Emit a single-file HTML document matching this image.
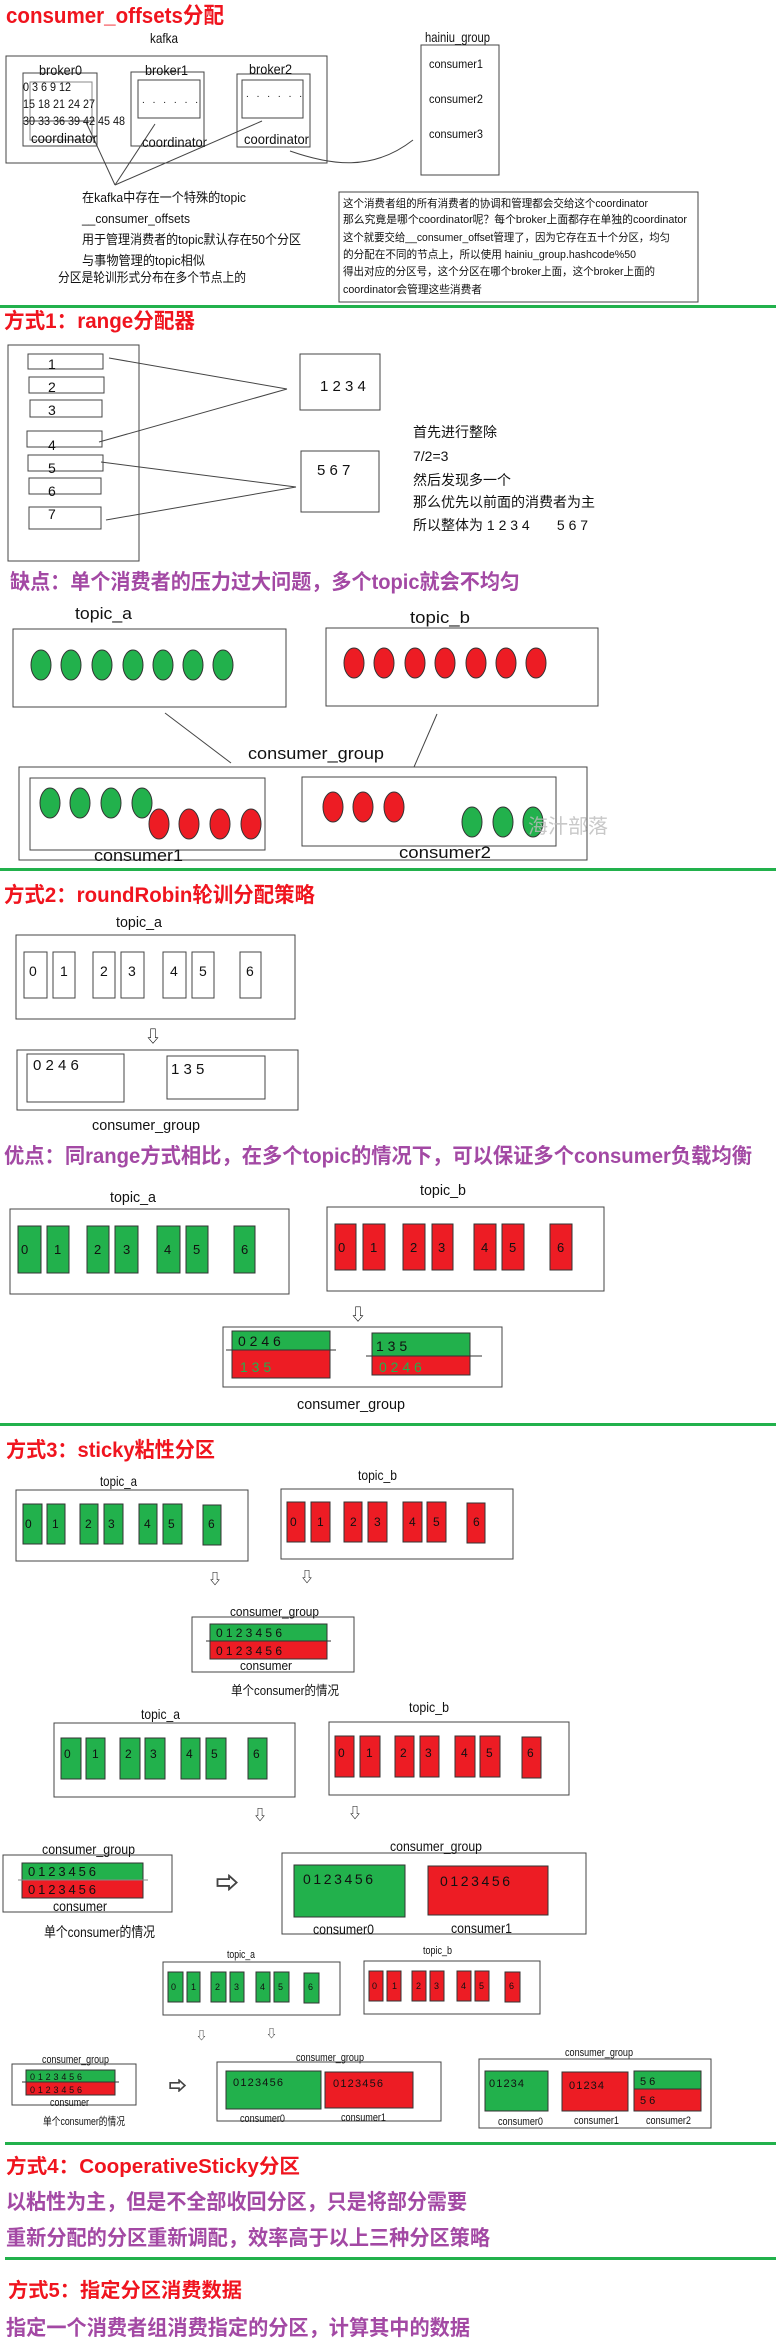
<!DOCTYPE html>
<html><head><meta charset="utf-8"><style>
html,body{margin:0;padding:0;background:#fff;}
svg{display:block;}
text{font-family:"Liberation Sans","Noto Sans CJK SC",sans-serif;}
</style></head><body>
<svg width="776" height="2341" viewBox="0 0 776 2341" xmlns="http://www.w3.org/2000/svg">
<rect width="776" height="2341" fill="#fff"/>
<g font-weight="bold">
<text x="6" y="23" font-size="22" fill="#f0141e" textLength="218" lengthAdjust="spacingAndGlyphs">consumer_offsets分配</text>
<text x="4" y="328" font-size="21" fill="#f0141e" textLength="191" lengthAdjust="spacingAndGlyphs">方式1：range分配器</text>
<text x="10" y="589" font-size="21" fill="#a349a4" textLength="510" lengthAdjust="spacingAndGlyphs">缺点：单个消费者的压力过大问题，多个topic就会不均匀</text>
<text x="4" y="902" font-size="21" fill="#f0141e" textLength="311" lengthAdjust="spacingAndGlyphs">方式2：roundRobin轮训分配策略</text>
<text x="4" y="1163" font-size="21" fill="#a349a4" textLength="748" lengthAdjust="spacingAndGlyphs">优点：同range方式相比，在多个topic的情况下，可以保证多个consumer负载均衡</text>
<text x="6" y="1457" font-size="21" fill="#f0141e" textLength="209" lengthAdjust="spacingAndGlyphs">方式3：sticky粘性分区</text>
<text x="6" y="2173" font-size="20" fill="#f0141e" textLength="294" lengthAdjust="spacingAndGlyphs">方式4：CooperativeSticky分区</text>
<text x="6" y="2209" font-size="21" fill="#a349a4" textLength="461" lengthAdjust="spacingAndGlyphs">以粘性为主，但是不全部收回分区，只是将部分需要</text>
<text x="6" y="2245" font-size="21" fill="#a349a4" textLength="484" lengthAdjust="spacingAndGlyphs">重新分配的分区重新调配，效率高于以上三种分区策略</text>
<text x="8" y="2297" font-size="20" fill="#f0141e" textLength="234" lengthAdjust="spacingAndGlyphs">方式5：指定分区消费数据</text>
<text x="6" y="2335" font-size="21" fill="#a349a4" textLength="464" lengthAdjust="spacingAndGlyphs">指定一个消费者组消费指定的分区，计算其中的数据</text>
</g>
<!-- green separators -->
<rect x="0" y="305" width="776" height="3" fill="#22b14c"/>
<rect x="0" y="868" width="776" height="3" fill="#22b14c"/>
<rect x="0" y="1423" width="776" height="3" fill="#22b14c"/>
<rect x="5" y="2142" width="771" height="3" fill="#22b14c"/>
<rect x="5" y="2257" width="771" height="3" fill="#22b14c"/>

<g fill="none" stroke="#444" stroke-width="1">
<!-- section 1 -->
<rect x="6" y="56" width="321" height="107"/>
<rect x="23" y="73" width="74" height="73"/>
<rect x="30" y="82" width="62" height="58" stroke="#888"/>
<rect x="131" y="72" width="73" height="74"/>
<rect x="138" y="80" width="62" height="38"/>
<rect x="237" y="74" width="73" height="73"/>
<rect x="242" y="80" width="61" height="38"/>
<line x1="23" y1="121" x2="95" y2="121"/>
<line x1="86" y1="122" x2="115" y2="185"/>
<line x1="155" y1="124" x2="115" y2="185"/>
<line x1="262" y1="121" x2="115" y2="185"/>
<path d="M290,151 C330,165 372,172 413,140"/>
<rect x="421" y="45" width="78" height="130"/>
<rect x="339" y="192" width="359" height="110"/>
<!-- section 2 -->
<rect x="8" y="345" width="131" height="216"/>
<rect x="28" y="354" width="75" height="15"/>
<rect x="29" y="377" width="75" height="16"/>
<rect x="30" y="400" width="72" height="17"/>
<rect x="27" y="431" width="75" height="16"/>
<rect x="28" y="455" width="75" height="16"/>
<rect x="29" y="478" width="72" height="16"/>
<rect x="29" y="507" width="72" height="22"/>
<rect x="300" y="354" width="80" height="56"/>
<rect x="301" y="451" width="78" height="61"/>
<line x1="109" y1="358" x2="287" y2="389"/>
<line x1="99" y1="442" x2="287" y2="389"/>
<line x1="101" y1="462" x2="296" y2="487"/>
<line x1="106" y1="520" x2="296" y2="487"/>
<rect x="13" y="629" width="273" height="78"/>
<rect x="326" y="628" width="272" height="78"/>
<line x1="165" y1="713" x2="231" y2="763"/>
<line x1="437" y1="714" x2="414" y2="767"/>
<rect x="19" y="767" width="568" height="93"/>
<rect x="30" y="778" width="235" height="72"/>
<rect x="302" y="777" width="254" height="69"/>
<!-- section 3 -->
<rect x="16" y="935" width="279" height="84"/>
<rect x="17" y="1050" width="281" height="60"/>
<rect x="27" y="1054" width="97" height="48"/>
<rect x="167" y="1056" width="98" height="43"/>
<rect x="10" y="1209" width="279" height="85"/>
<rect x="327" y="1207" width="277" height="84"/>
<rect x="223" y="1327" width="279" height="60"/>
<!-- sticky -->
<rect x="16" y="1490" width="232" height="71"/>
<rect x="281" y="1489" width="232" height="70"/>
<rect x="192" y="1617" width="162" height="55"/>
<rect x="54" y="1723" width="241" height="74"/>
<rect x="329" y="1722" width="240" height="73"/>
<rect x="3" y="1855" width="169" height="57"/>
<rect x="282" y="1853" width="304" height="81"/>
<rect x="163" y="1962" width="177" height="53"/>
<rect x="364" y="1961" width="176" height="53"/>
<rect x="12" y="2064" width="124" height="41"/>
<rect x="217" y="2062" width="224" height="59"/>
<rect x="479" y="2059" width="232" height="69"/>
</g>

<g font-size="14" fill="#111">
<text x="150" y="43" textLength="28" lengthAdjust="spacingAndGlyphs">kafka</text>
<text x="39" y="75" textLength="43" lengthAdjust="spacingAndGlyphs">broker0</text>
<text x="145" y="75" textLength="43" lengthAdjust="spacingAndGlyphs">broker1</text>
<text x="249" y="74" textLength="43" lengthAdjust="spacingAndGlyphs">broker2</text>
<text x="23" y="91" font-size="12" textLength="48" lengthAdjust="spacingAndGlyphs">0 3 6 9 12</text>
<text x="23" y="108" font-size="12" textLength="72" lengthAdjust="spacingAndGlyphs">15 18 21 24 27</text>
<text x="23" y="125" font-size="12" textLength="102" lengthAdjust="spacingAndGlyphs">30 33 36 39 42 45 48</text>
<text x="31" y="143" textLength="66" lengthAdjust="spacingAndGlyphs">coordinator</text>
<text x="142" y="147" textLength="65" lengthAdjust="spacingAndGlyphs">coordinator</text>
<text x="244" y="144" textLength="65" lengthAdjust="spacingAndGlyphs">coordinator</text>
<text x="142" y="103" font-size="10" textLength="56" lengthAdjust="spacing">. . . . . .</text>
<text x="246" y="97" font-size="10" textLength="56" lengthAdjust="spacing">. . . . . .</text>
<text x="425" y="42" textLength="65" lengthAdjust="spacingAndGlyphs">hainiu_group</text>
<text x="429" y="68" font-size="12" textLength="54" lengthAdjust="spacingAndGlyphs">consumer1</text>
<text x="429" y="103" font-size="12" textLength="54" lengthAdjust="spacingAndGlyphs">consumer2</text>
<text x="429" y="138" font-size="12" textLength="54" lengthAdjust="spacingAndGlyphs">consumer3</text>
<g font-size="13">
<text x="82" y="202" textLength="164" lengthAdjust="spacingAndGlyphs">在kafka中存在一个特殊的topic</text>
<text x="82" y="223" textLength="108" lengthAdjust="spacingAndGlyphs">__consumer_offsets</text>
<text x="82" y="244" textLength="219" lengthAdjust="spacingAndGlyphs">用于管理消费者的topic默认存在50个分区</text>
<text x="82" y="265" textLength="123" lengthAdjust="spacingAndGlyphs">与事物管理的topic相似</text>
<text x="58" y="282" textLength="188" lengthAdjust="spacingAndGlyphs">分区是轮训形式分布在多个节点上的</text>
</g>
<g font-size="11">
<text x="343" y="207" textLength="305" lengthAdjust="spacingAndGlyphs">这个消费者组的所有消费者的协调和管理都会交给这个coordinator</text>
<text x="343" y="223" textLength="344" lengthAdjust="spacingAndGlyphs">那么究竟是哪个coordinator呢？每个broker上面都存在单独的coordinator</text>
<text x="343" y="241" textLength="327" lengthAdjust="spacingAndGlyphs">这个就要交给__consumer_offset管理了，因为它存在五十个分区，均匀</text>
<text x="343" y="258" textLength="293" lengthAdjust="spacingAndGlyphs">的分配在不同的节点上，所以使用 hainiu_group.hashcode%50</text>
<text x="343" y="275" textLength="312" lengthAdjust="spacingAndGlyphs">得出对应的分区号，这个分区在哪个broker上面，这个broker上面的</text>
<text x="343" y="293" textLength="139" lengthAdjust="spacingAndGlyphs">coordinator会管理这些消费者</text>
</g>
<!-- section 2 -->
<text x="48" y="369">1</text>
<text x="48" y="392">2</text>
<text x="48" y="415">3</text>
<text x="48" y="450">4</text>
<text x="48" y="473">5</text>
<text x="48" y="496">6</text>
<text x="48" y="519">7</text>
<text x="320" y="391" font-size="15">1 2 3 4</text>
<text x="317" y="475" font-size="15">5 6 7</text>
<text x="413" y="437">首先进行整除</text>
<text x="413" y="461">7/2=3</text>
<text x="413" y="485">然后发现多一个</text>
<text x="413" y="507">那么优先以前面的消费者为主</text>
<text x="413" y="530" xml:space="preserve">所以整体为 1 2 3 4       5 6 7</text>
<text x="75" y="619" font-size="17" textLength="57" lengthAdjust="spacingAndGlyphs">topic_a</text>
<text x="410" y="623" font-size="17" textLength="60" lengthAdjust="spacingAndGlyphs">topic_b</text>
<text x="248" y="759" font-size="17" textLength="136" lengthAdjust="spacingAndGlyphs">consumer_group</text>
<text x="94" y="861" font-size="17" textLength="89" lengthAdjust="spacingAndGlyphs">consumer1</text>
<text x="399" y="858" font-size="17" textLength="92" lengthAdjust="spacingAndGlyphs">consumer2</text>
</g>
<g stroke="#333" stroke-width="1">
<g fill="#22b14c">
<ellipse cx="41" cy="665" rx="10" ry="15"/><ellipse cx="71" cy="665" rx="10" ry="15"/><ellipse cx="102" cy="665" rx="10" ry="15"/><ellipse cx="133" cy="665" rx="10" ry="15"/><ellipse cx="163" cy="665" rx="10" ry="15"/><ellipse cx="193" cy="665" rx="10" ry="15"/><ellipse cx="223" cy="665" rx="10" ry="15"/>
<ellipse cx="50" cy="803" rx="10" ry="15"/><ellipse cx="80" cy="803" rx="10" ry="15"/><ellipse cx="111" cy="803" rx="10" ry="15"/><ellipse cx="142" cy="803" rx="10" ry="15"/>
<ellipse cx="472" cy="822" rx="10" ry="15"/><ellipse cx="503" cy="822" rx="10" ry="15"/><ellipse cx="533" cy="822" rx="10" ry="15"/>
</g>
<g fill="#ed1c24">
<ellipse cx="354" cy="663" rx="10" ry="15"/><ellipse cx="384" cy="663" rx="10" ry="15"/><ellipse cx="415" cy="663" rx="10" ry="15"/><ellipse cx="445" cy="663" rx="10" ry="15"/><ellipse cx="476" cy="663" rx="10" ry="15"/><ellipse cx="506" cy="663" rx="10" ry="15"/><ellipse cx="536" cy="663" rx="10" ry="15"/>
<ellipse cx="159" cy="824" rx="10" ry="15"/><ellipse cx="189" cy="824" rx="10" ry="15"/><ellipse cx="220" cy="824" rx="10" ry="15"/><ellipse cx="251" cy="824" rx="10" ry="15"/>
<ellipse cx="333" cy="807" rx="10" ry="15"/><ellipse cx="363" cy="807" rx="10" ry="15"/><ellipse cx="394" cy="807" rx="10" ry="15"/>
</g>
</g>
<text x="528" y="833" font-size="20" fill="#bbb" opacity="0.8">海汁部落</text>

<!-- section 3 roundrobin -->
<g fill="#fff" stroke="#444">
<rect x="24" y="952" width="23" height="46"/><rect x="53" y="952" width="22" height="46"/><rect x="93" y="952" width="22" height="46"/><rect x="121" y="952" width="23" height="46"/><rect x="163" y="952" width="23" height="46"/><rect x="192" y="952" width="22" height="46"/><rect x="240" y="952" width="21" height="46"/>
</g>
<g font-size="14" fill="#111">
<text x="116" y="927" font-size="15" textLength="46" lengthAdjust="spacingAndGlyphs">topic_a</text>
<text x="29" y="976">0</text><text x="60" y="976">1</text><text x="100" y="976">2</text><text x="128" y="976">3</text><text x="170" y="976">4</text><text x="199" y="976">5</text><text x="246" y="976">6</text>
<text x="145" y="1042" font-size="16">⇩</text>
<text x="33" y="1070" font-size="15">0 2 4 6</text>
<text x="171" y="1074" font-size="15">1 3 5</text>
<text x="92" y="1130" font-size="15" textLength="108" lengthAdjust="spacingAndGlyphs">consumer_group</text>
<text x="110" y="1202" font-size="15" textLength="46" lengthAdjust="spacingAndGlyphs">topic_a</text>
<text x="420" y="1195" font-size="15" textLength="46" lengthAdjust="spacingAndGlyphs">topic_b</text>
<text x="350" y="1320" font-size="16">⇩</text>
<text x="297" y="1409" font-size="15" textLength="108" lengthAdjust="spacingAndGlyphs">consumer_group</text>
</g>
<g stroke="#333">
<g fill="#22b14c">
<rect x="18" y="1226" width="23" height="47"/><rect x="47" y="1226" width="22" height="47"/><rect x="87" y="1226" width="22" height="47"/><rect x="115" y="1226" width="23" height="47"/><rect x="157" y="1226" width="23" height="47"/><rect x="186" y="1226" width="22" height="47"/><rect x="234" y="1226" width="21" height="47"/>
</g>
<g fill="#ed1c24">
<rect x="335" y="1224" width="21" height="46"/><rect x="363" y="1224" width="22" height="46"/><rect x="403" y="1224" width="22" height="46"/><rect x="432" y="1224" width="21" height="46"/><rect x="474" y="1224" width="22" height="46"/><rect x="502" y="1224" width="22" height="46"/><rect x="550" y="1224" width="22" height="46"/>
</g>
<rect x="232" y="1331" width="98" height="19" fill="#22b14c"/>
<rect x="232" y="1350" width="98" height="28" fill="#ed1c24"/>
<rect x="372" y="1333" width="98" height="23" fill="#22b14c"/>
<rect x="372" y="1356" width="98" height="19" fill="#ed1c24"/>
<line x1="226" y1="1350" x2="336" y2="1350"/>
<line x1="366" y1="1356" x2="482" y2="1356"/>
</g>
<g font-size="13" fill="#111">
<text x="21" y="1254">0</text><text x="54" y="1254">1</text><text x="94" y="1254">2</text><text x="123" y="1254">3</text><text x="164" y="1254">4</text><text x="193" y="1254">5</text><text x="241" y="1254">6</text>
<text x="338" y="1252">0</text><text x="370" y="1252">1</text><text x="410" y="1252">2</text><text x="438" y="1252">3</text><text x="481" y="1252">4</text><text x="509" y="1252">5</text><text x="557" y="1252">6</text>
<text x="238" y="1346" font-size="14">0 2 4 6</text>
<text x="240" y="1372" font-size="14" fill="#22b14c">1 3 5</text>
<text x="376" y="1351" font-size="14">1 3 5</text>
<text x="379" y="1372" font-size="14" fill="#22b14c">0 2 4 6</text>
</g>

<!-- sticky part 1 -->
<g stroke="#333">
<g fill="#22b14c">
<rect x="23" y="1504" width="19" height="40"/><rect x="47" y="1504" width="18" height="40"/><rect x="80" y="1504" width="18" height="40"/><rect x="104" y="1504" width="19" height="40"/><rect x="139" y="1504" width="18" height="40"/><rect x="163" y="1504" width="19" height="40"/><rect x="203" y="1505" width="18" height="40"/>
<rect x="61" y="1738" width="20" height="41"/><rect x="86" y="1738" width="19" height="41"/><rect x="120" y="1738" width="20" height="41"/><rect x="145" y="1738" width="20" height="41"/><rect x="181" y="1738" width="19" height="41"/><rect x="206" y="1738" width="20" height="41"/><rect x="248" y="1738" width="19" height="41"/>
<rect x="168" y="1972" width="15" height="30"/><rect x="187" y="1972" width="13" height="30"/><rect x="211" y="1972" width="15" height="30"/><rect x="230" y="1972" width="14" height="30"/><rect x="256" y="1972" width="14" height="30"/><rect x="274" y="1972" width="15" height="30"/><rect x="304" y="1973" width="15" height="30"/>
<rect x="210" y="1624" width="117" height="17"/>
<rect x="22" y="1863" width="121" height="17"/>
<rect x="294" y="1865" width="111" height="52"/>
<rect x="26" y="2070" width="89" height="12"/>
<rect x="226" y="2071" width="95" height="38"/>
<rect x="485" y="2071" width="63" height="40"/>
<rect x="634" y="2071" width="67" height="18"/>
</g>
<g fill="#ed1c24">
<rect x="287" y="1502" width="18" height="40"/><rect x="311" y="1502" width="19" height="40"/><rect x="344" y="1502" width="18" height="40"/><rect x="368" y="1502" width="19" height="40"/><rect x="403" y="1502" width="19" height="40"/><rect x="427" y="1502" width="19" height="40"/><rect x="467" y="1503" width="18" height="40"/>
<rect x="335" y="1736" width="19" height="41"/><rect x="360" y="1736" width="20" height="41"/><rect x="395" y="1736" width="19" height="41"/><rect x="420" y="1736" width="19" height="41"/><rect x="455" y="1736" width="20" height="41"/><rect x="480" y="1736" width="20" height="41"/><rect x="522" y="1737" width="19" height="41"/>
<rect x="369" y="1971" width="14" height="30"/><rect x="387" y="1971" width="14" height="30"/><rect x="412" y="1971" width="14" height="30"/><rect x="430" y="1971" width="14" height="30"/><rect x="457" y="1971" width="14" height="30"/><rect x="475" y="1971" width="14" height="30"/><rect x="505" y="1972" width="15" height="30"/>
<rect x="210" y="1641" width="117" height="18"/>
<rect x="22" y="1880" width="121" height="18"/>
<rect x="428" y="1866" width="120" height="49"/>
<rect x="26" y="2082" width="89" height="13"/>
<rect x="325" y="2072" width="88" height="36"/>
<rect x="562" y="2072" width="66" height="39"/>
<rect x="634" y="2089" width="67" height="22"/>
</g>
<line x1="206" y1="1641" x2="331" y2="1641"/>
<line x1="18" y1="1880" x2="148" y2="1880" stroke="#888"/>
<line x1="22" y1="2082" x2="119" y2="2082"/>
</g>
<g fill="#111">
<g font-size="12">
<text x="25" y="1528">0</text><text x="52" y="1528">1</text><text x="85" y="1528">2</text><text x="108" y="1528">3</text><text x="144" y="1528">4</text><text x="168" y="1528">5</text><text x="208" y="1528">6</text>
<text x="290" y="1526">0</text><text x="317" y="1526">1</text><text x="350" y="1526">2</text><text x="374" y="1526">3</text><text x="409" y="1526">4</text><text x="433" y="1526">5</text><text x="473" y="1526">6</text>
<text x="64" y="1758">0</text><text x="92" y="1758">1</text><text x="125" y="1758">2</text><text x="150" y="1758">3</text><text x="186" y="1758">4</text><text x="211" y="1758">5</text><text x="253" y="1758">6</text>
<text x="338" y="1757">0</text><text x="366" y="1757">1</text><text x="400" y="1757">2</text><text x="425" y="1757">3</text><text x="461" y="1757">4</text><text x="486" y="1757">5</text><text x="527" y="1757">6</text>
</g>
<g font-size="9">
<text x="171" y="1990">0</text><text x="191" y="1990">1</text><text x="215" y="1990">2</text><text x="234" y="1990">3</text><text x="260" y="1990">4</text><text x="278" y="1990">5</text><text x="308" y="1990">6</text>
<text x="372" y="1989">0</text><text x="392" y="1989">1</text><text x="416" y="1989">2</text><text x="434" y="1989">3</text><text x="461" y="1989">4</text><text x="479" y="1989">5</text><text x="509" y="1989">6</text>
</g>
<text x="100" y="1486" font-size="14" textLength="37" lengthAdjust="spacingAndGlyphs">topic_a</text>
<text x="358" y="1480" font-size="14" textLength="39" lengthAdjust="spacingAndGlyphs">topic_b</text>
<text x="208" y="1584" font-size="14">⇩</text>
<text x="300" y="1582" font-size="14">⇩</text>
<text x="230" y="1616" font-size="13" textLength="89" lengthAdjust="spacingAndGlyphs">consumer_group</text>
<text x="216" y="1637" font-size="12" textLength="66" lengthAdjust="spacing">0 1 2 3 4 5 6</text>
<text x="216" y="1655" font-size="12" textLength="66" lengthAdjust="spacing">0 1 2 3 4 5 6</text>
<text x="240" y="1670" font-size="13" textLength="52" lengthAdjust="spacingAndGlyphs">consumer</text>
<text x="231" y="1695" font-size="13" textLength="108" lengthAdjust="spacingAndGlyphs">单个consumer的情况</text>

<text x="141" y="1719" font-size="14" textLength="39" lengthAdjust="spacingAndGlyphs">topic_a</text>
<text x="409" y="1712" font-size="14" textLength="40" lengthAdjust="spacingAndGlyphs">topic_b</text>
<text x="253" y="1820" font-size="14">⇩</text>
<text x="348" y="1818" font-size="14">⇩</text>
<text x="42" y="1854" font-size="14" textLength="93" lengthAdjust="spacingAndGlyphs">consumer_group</text>
<text x="28" y="1876" font-size="13" textLength="68" lengthAdjust="spacing">0 1 2 3 4 5 6</text>
<text x="28" y="1894" font-size="13" textLength="68" lengthAdjust="spacing">0 1 2 3 4 5 6</text>
<text x="53" y="1911" font-size="14" textLength="54" lengthAdjust="spacingAndGlyphs">consumer</text>
<text x="216" y="1891" font-size="22" fill="#fff" stroke="#444" stroke-width="1">⇨</text>
<text x="44" y="1937" font-size="14" textLength="111" lengthAdjust="spacingAndGlyphs">单个consumer的情况</text>
<text x="390" y="1851" font-size="14" textLength="92" lengthAdjust="spacingAndGlyphs">consumer_group</text>
<text x="303" y="1884" font-size="14" textLength="70" lengthAdjust="spacing">0 1 2 3 4 5 6</text>
<text x="440" y="1886" font-size="14" textLength="70" lengthAdjust="spacing">0 1 2 3 4 5 6</text>
<text x="313" y="1934" font-size="14" textLength="61" lengthAdjust="spacingAndGlyphs">consumer0</text>
<text x="451" y="1933" font-size="14" textLength="61" lengthAdjust="spacingAndGlyphs">consumer1</text>

<g font-size="11">
<text x="227" y="1958" textLength="28" lengthAdjust="spacingAndGlyphs">topic_a</text>
<text x="423" y="1954" textLength="29" lengthAdjust="spacingAndGlyphs">topic_b</text>
<text x="196" y="2039">⇩</text>
<text x="266" y="2037">⇩</text>
<text x="42" y="2063" textLength="67" lengthAdjust="spacingAndGlyphs">consumer_group</text>
<text x="30" y="2080" font-size="9" textLength="52" lengthAdjust="spacing">0 1 2 3 4 5 6</text>
<text x="30" y="2093" font-size="9" textLength="52" lengthAdjust="spacing">0 1 2 3 4 5 6</text>
<text x="50" y="2106" textLength="39" lengthAdjust="spacingAndGlyphs">consumer</text>
<text x="169" y="2092" font-size="17" fill="#fff" stroke="#444" stroke-width="1">⇨</text>
<text x="43" y="2125" textLength="82" lengthAdjust="spacingAndGlyphs">单个consumer的情况</text>
<text x="296" y="2061" textLength="68" lengthAdjust="spacingAndGlyphs">consumer_group</text>
<text x="233" y="2086" textLength="50" lengthAdjust="spacing">0 1 2 3 4 5 6</text>
<text x="333" y="2087" textLength="50" lengthAdjust="spacing">0 1 2 3 4 5 6</text>
<text x="240" y="2122" textLength="45" lengthAdjust="spacingAndGlyphs">consumer0</text>
<text x="341" y="2121" textLength="45" lengthAdjust="spacingAndGlyphs">consumer1</text>
<text x="565" y="2056" textLength="68" lengthAdjust="spacingAndGlyphs">consumer_group</text>
<text x="489" y="2087" textLength="35" lengthAdjust="spacing">0 1 2 3 4</text>
<text x="569" y="2089" textLength="35" lengthAdjust="spacing">0 1 2 3 4</text>
<text x="640" y="2085">5 6</text>
<text x="640" y="2104">5 6</text>
<text x="498" y="2125" textLength="45" lengthAdjust="spacingAndGlyphs">consumer0</text>
<text x="574" y="2124" textLength="45" lengthAdjust="spacingAndGlyphs">consumer1</text>
<text x="646" y="2124" textLength="45" lengthAdjust="spacingAndGlyphs">consumer2</text>
</g>
</g>
</svg>
</body></html>
